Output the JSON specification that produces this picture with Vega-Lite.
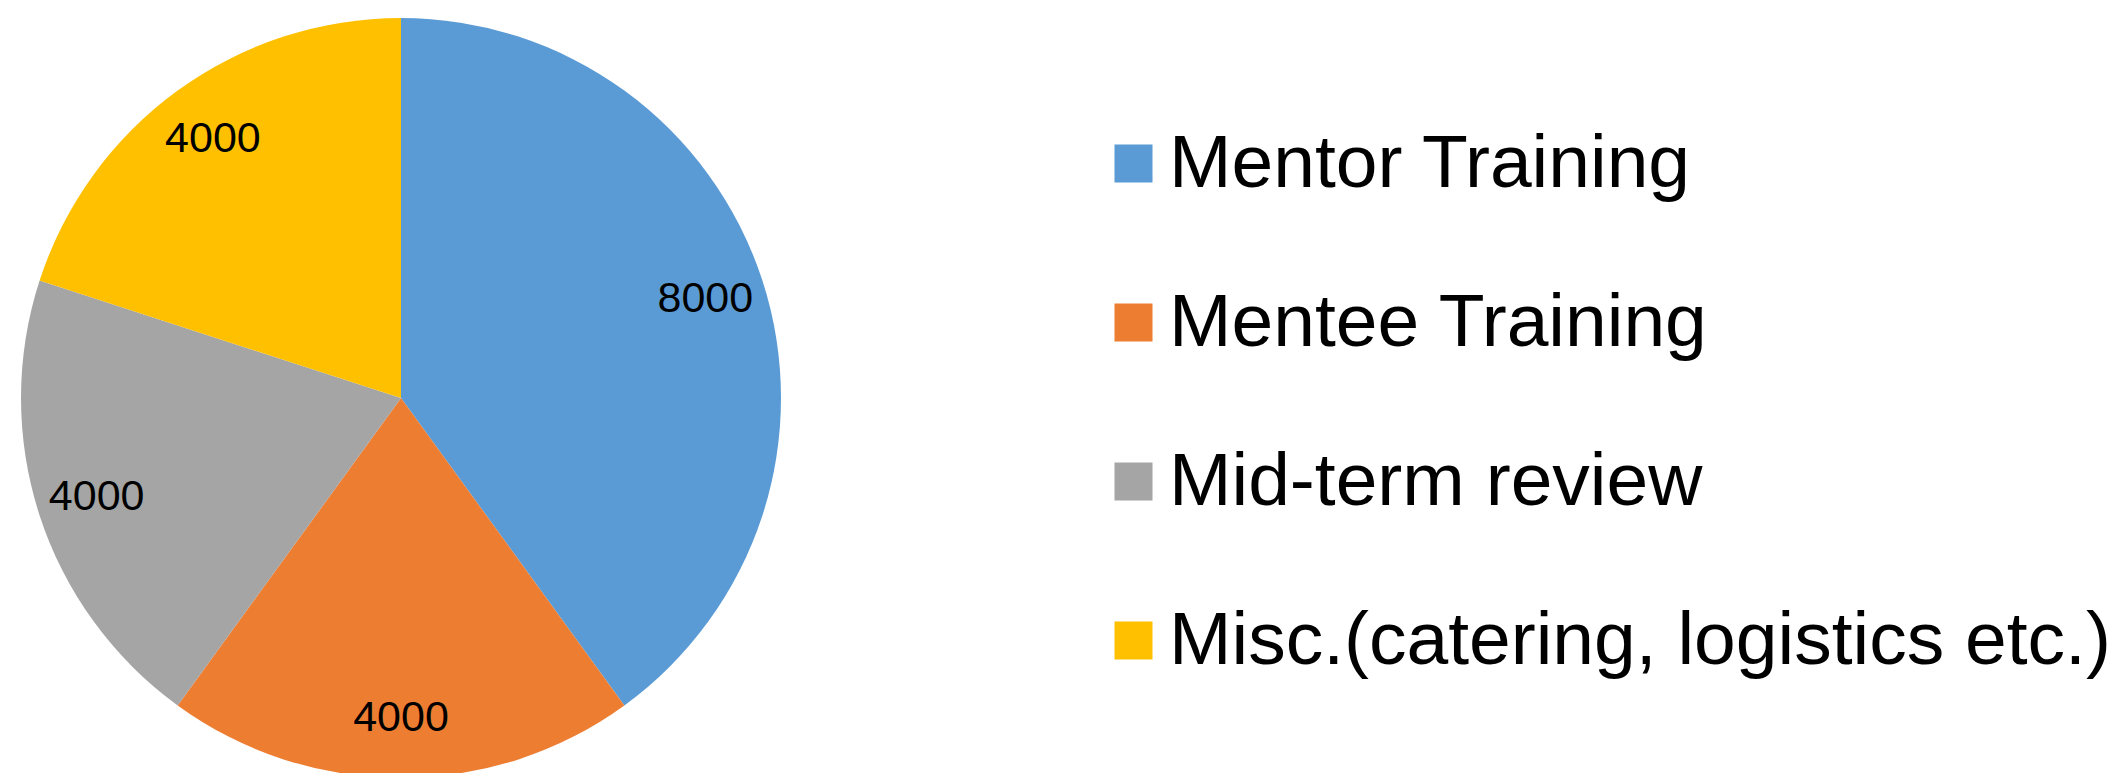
{
  "$schema": "https://vega.github.io/schema/vega-lite/v6.json",
  "width": 802,
  "height": 796,
  "padding": 0,
  "background": "white",
  "config": {"view": {"stroke": null}},
  "data": {"values": [
    {"item": "Mentor Training", "cost": 8000, "idx": 1},
    {"item": "Mentee Training", "cost": 4000, "idx": 2},
    {"item": "Mid-term review", "cost": 4000, "idx": 3},
    {"item": "Misc.(catering, logistics etc.)", "cost": 4000, "idx": 4}
  ]},
  "encoding": {
    "theta": {"field": "cost", "type": "quantitative", "stack": true},
    "order": {"field": "idx", "type": "quantitative"}
  },
  "layer": [
    {
      "mark": {"type": "arc", "outerRadius": 380},
      "encoding": {
        "color": {
          "field": "item", "type": "nominal",
          "scale": {
            "domain": ["Mentor Training", "Mentee Training", "Mid-term review", "Misc.(catering, logistics etc.)"],
            "range": ["#5B9BD5", "#ED7D31", "#A5A5A5", "#FFC000"]
          },
          "legend": {
            "title": null,
            "orient": "none",
            "legendX": 1096,
            "legendY": 126,
            "padding": 0,
            "symbolType": "square",
            "symbolSize": 1444,
            "symbolStrokeWidth": 0,
            "labelFont": "Liberation Sans",
            "labelFontSize": 75,
            "labelColor": "#000000",
            "labelOffset": -2,
            "labelLimit": 1200,
            "rowPadding": 83
          }
        }
      }
    },
    {
      "mark": {"type": "text", "radius": 320, "font": "Liberation Sans", "fontSize": 43, "color": "#000000", "align": "center", "baseline": "middle"},
      "encoding": {"text": {"field": "cost", "type": "quantitative", "format": "d"}}
    }
  ]
}
